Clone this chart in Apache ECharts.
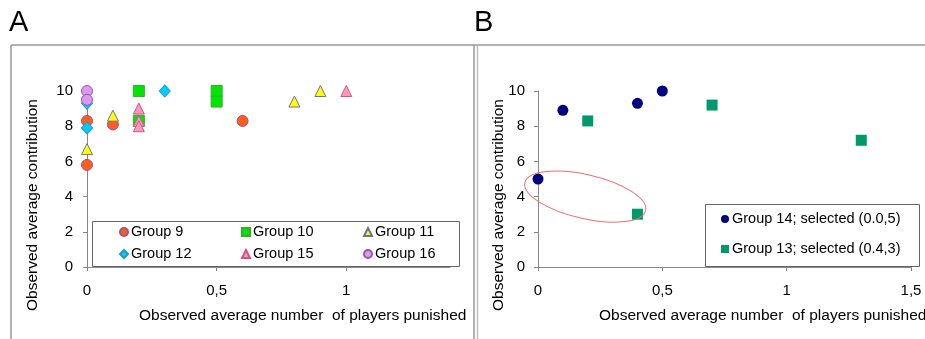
<!DOCTYPE html>
<html>
<head>
<meta charset="utf-8">
<script src="https://cdn.jsdelivr.net/npm/echarts@6/dist/echarts.min.js"></script>
<style>
html, body { margin: 0; padding: 0; background: #fff; }
#chart { width: 925px; height: 339px; }
</style>
</head>
<body>
<div id="chart"></div>
<script>
// panel A groups  [x = punished, y = contribution]
var group9  = [[0, 8.3], [0, 5.8], [0.1, 8.1], [0.6, 8.3]];
var group10 = [[0.2, 10], [0.2, 8.3], [0.5, 10], [0.5, 9.4]];
var group11 = [[0, 6.7], [0.1, 8.6], [0.8, 9.4], [0.9, 10]];
var group12 = [[0, 7.9], [0, 9.3], [0.3, 10]];
var group15 = [[0.2, 9.0], [0.2, 8.3], [0.2, 8.0], [1.0, 10]];
var group16 = [[0, 10], [0, 9.5]];
// panel B groups
var group14 = [[0, 5], [0.1, 8.9], [0.4, 9.3], [0.5, 10]];
var group13 = [[0.2, 8.3], [0.4, 3], [0.7, 9.2], [1.3, 7.2]];
var selectedCenter = [0.19, 4.0];

var xTicksA = [0, 0.5, 1];
var yName = 'Observed average contribution';
var xName = 'Observed average number  of players punished';

var FONT = '"Liberation Sans", Arial, sans-serif';
var chart = echarts.init(document.getElementById('chart'));

function comma(v) { return String(v).replace('.', ','); }

function xAxis(idx, max, custom) {
    var ax = {
        type: 'value', gridIndex: idx, min: 0, max: max, interval: 0.5,
        splitLine: { show: false },
        axisLine: { onZero: false, lineStyle: { color: '#888', width: 1 } },
        axisTick: { show: true, length: 4, lineStyle: { color: '#888' } },
        axisLabel: { margin: 16, color: '#000', fontSize: 15, fontFamily: FONT, formatter: comma }
    };
    if (custom) {
        ax.axisTick.customValues = custom;
        ax.axisLabel.customValues = custom;
    }
    return ax;
}
function yAxis(idx, margin) {
    return {
        type: 'value', gridIndex: idx, min: 0, max: 10, interval: 2,
        splitLine: { show: false },
        axisLine: { show: true, onZero: false, lineStyle: { color: '#888', width: 1 } },
        axisTick: { show: true, length: 4, lineStyle: { color: '#888' } },
        axisLabel: { margin: margin, color: '#000', fontSize: 15, fontFamily: FONT }
    };
}
function sc(name, data, symbol, color, border, idx) {
    return {
        name: name, type: 'scatter', xAxisIndex: idx, yAxisIndex: idx,
        data: data, symbol: symbol, symbolSize: symbol == 'diamond' ? [11, 12] : 11,
        itemStyle: { color: color, borderColor: border, borderWidth: border ? 1 : 0, opacity: 1 },
        emphasis: { disabled: true }
    };
}
function legendCol(names, left, top, gap) {
    return {
        data: names, orient: 'vertical', left: left, top: top, itemGap: gap,
        itemWidth: 8, itemHeight: 8, padding: 0, selectedMode: false, z: 6,
        textStyle: { color: '#000', fontSize: 14.5, fontFamily: FONT, lineHeight: 16, padding: [0, 0, 0, -2] }
    };
}

var lineStyle = { stroke: '#999', lineWidth: 1.5 };

var option = {
    animation: false,
    grid: [
        { left: 87, top: 91, width: 363, height: 176, outerBoundsMode: 'none' },
        { left: 538, top: 91, width: 373, height: 176, outerBoundsMode: 'none' }
    ],
    xAxis: [xAxis(0, 1.4, xTicksA), xAxis(1, 1.5)],
    yAxis: [yAxis(0, 14), yAxis(1, 13)],
    legend: [
        legendCol(['Group 9', 'Group 12'], 119, 224, 6),
        legendCol(['Group 10', 'Group 15'], 241, 224, 6),
        legendCol(['Group 11', 'Group 16'], 363, 224, 6),
        legendCol(['Group 14; selected (0.0,5)', 'Group 13; selected (0.4,3)'], 721, 211, 14)
    ],
    series: [
        sc('Group 9', group9, 'circle', '#FF5E1A', '#A0508A', 0),
        sc('Group 10', group10, 'rect', '#00E600', '#33B033', 0),
        sc('Group 11', group11, 'triangle', '#FFFF00', '#7070A0', 0),
        sc('Group 12', group12, 'diamond', '#00CCFF', '#1E9ACB', 0),
        sc('Group 15', group15, 'triangle', '#FF99BB', '#CC5588', 0),
        sc('Group 16', group16, 'circle', '#DD99EE', '#9955AA', 0),
        sc('Group 14; selected (0.0,5)', group14, 'circle', '#000080', null, 1),
        sc('Group 13; selected (0.4,3)', group13, 'rect', '#00996B', null, 1)
    ],
    graphic: [
        // panel frames
        { type: 'line', z: 0, shape: { x1: 11, y1: 45, x2: 925, y2: 45 }, style: lineStyle },
        { type: 'line', z: 0, shape: { x1: 11, y1: 45, x2: 11, y2: 339 }, style: lineStyle },
        { type: 'line', z: 0, shape: { x1: 474, y1: 45, x2: 474, y2: 339 }, style: lineStyle },
        { type: 'line', z: 0, shape: { x1: 477.5, y1: 46, x2: 477.5, y2: 339 }, style: { stroke: '#bbb', lineWidth: 1.5 } },
        // panel letters
        { type: 'text', x: 9, y: 8, style: { text: 'A', fill: '#000', font: '29px ' + FONT } },
        { type: 'text', x: 474, y: 8, style: { text: 'B', fill: '#000', font: '29px ' + FONT } },
        // axis names
        { type: 'text', x: 33, y: 205, rotation: Math.PI / 2, style: { text: yName, fill: '#000', font: '15.5px ' + FONT, textAlign: 'center', textVerticalAlign: 'middle' } },
        { type: 'text', x: 499, y: 205, rotation: Math.PI / 2, style: { text: yName, fill: '#000', font: '15.5px ' + FONT, textAlign: 'center', textVerticalAlign: 'middle' } },
        { type: 'text', x: 139, y: 316, style: { text: xName, fill: '#000', font: '15.5px ' + FONT, textVerticalAlign: 'middle' } },
        { type: 'text', x: 599, y: 316, style: { text: xName, fill: '#000', font: '15.5px ' + FONT, textVerticalAlign: 'middle' } },
        // legend boxes
        { type: 'rect', z: 3, shape: { x: 92.5, y: 221.5, width: 367, height: 45 }, style: { fill: '#fff', stroke: '#666', lineWidth: 1 } },
        { type: 'rect', z: 3, shape: { x: 705.5, y: 204.5, width: 214, height: 62 }, style: { fill: '#fff', stroke: '#666', lineWidth: 1 } }
    ]
};
chart.setOption(option);

// red ellipse round the two selected groups
var c = chart.convertToPixel({ gridIndex: 1 }, selectedCenter);
chart.setOption({
    graphic: option.graphic.concat([{
        type: 'ellipse', z: 10, x: c[0], y: c[1], rotation: -13 * Math.PI / 180,
        shape: { cx: 0, cy: 0, rx: 62, ry: 22 },
        style: { fill: 'none', stroke: '#EE7070', lineWidth: 1 }
    }])
});
</script>
</body>
</html>
